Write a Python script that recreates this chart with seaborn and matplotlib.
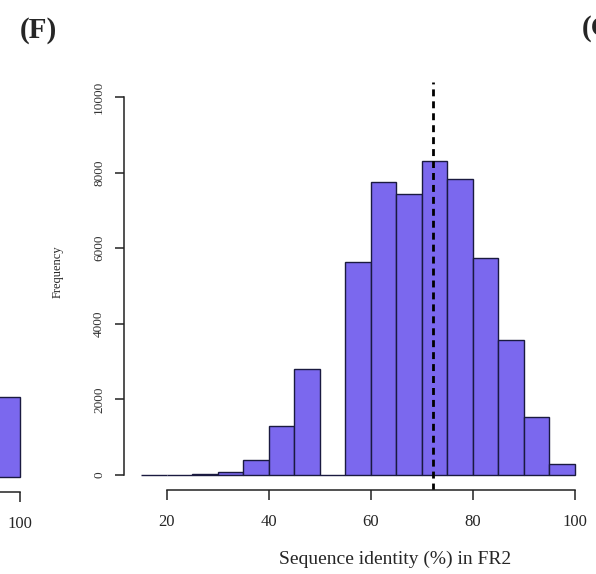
import numpy as np
import pandas as pd
import seaborn as sns
import matplotlib.pyplot as plt

# Histogram of sequence identity in FR2 (bins of 5 %)
bin_edges = [15, 20, 25, 30, 35, 40, 45, 50, 55, 60, 65, 70, 75, 80, 85, 90, 95, 100]
counts = [0, 0, 15, 70, 390, 1300, 2790, 0, 5640, 7750, 7440, 8300, 7830, 5740, 3580, 1520, 280]
mean_identity = 72.2

# last bin of the neighbouring panel (E), only partly visible
prev_edges = [95, 100]
prev_counts = [2100]

x_ticks = [20, 40, 60, 80, 100]
y_ticks = [0, 2000, 4000, 6000, 8000, 10000]

sns.set_style("white")
plt.rcParams['font.family'] = ['Liberation Serif', 'DejaVu Serif']

bar_color = '#7B68EE'

fig = plt.figure(figsize=(5.96, 5.74), dpi=100)
W, H = 596, 574


def px_axes(left, right, top, bottom):
    return fig.add_axes([left / W, 1 - bottom / H, (right - left) / W, (bottom - top) / H])


def style_axes(ax, xticks, show_y=True):
    ax.set_xlim(11.6, 103.4)
    ax.set_ylim(-400, 10400)
    for s in ['top', 'right']:
        ax.spines[s].set_visible(False)
    ax.spines['bottom'].set_bounds(20, 100)
    ax.spines['bottom'].set_linewidth(1.1)
    ax.spines['bottom'].set_color('#222222')
    ax.set_xticks(xticks)
    ax.tick_params(axis='x', bottom=True, direction='out', length=7, width=1.1, pad=10,
                   labelsize=12, color='#222222')
    if show_y:
        ax.spines['left'].set_bounds(0, 10000)
        ax.spines['left'].set_linewidth(1.1)
        ax.spines['left'].set_color('#222222')
        ax.set_yticks(y_ticks)
        ax.set_yticklabels([str(v) for v in y_ticks], rotation=90, va='center')
        ax.tick_params(axis='y', left=True, direction='out', length=6.5, width=1.1, pad=7,
                       labelsize=9.5, color='#222222', labelcolor='#333333')
    else:
        ax.spines['left'].set_visible(False)
        ax.set_yticks([])


# previous panel, cut off at the left edge
ax0 = px_axes(-447, 38, 82, 492)
centers0 = [(a + b) / 2 for a, b in zip(prev_edges[:-1], prev_edges[1:])]
sns.histplot(x=centers0, weights=prev_counts, bins=prev_edges, ax=ax0,
             color=bar_color, alpha=1, edgecolor='#1a1a40', linewidth=1)
style_axes(ax0, [100], show_y=False)
ax0.set_xlabel('')
ax0.set_ylabel('')

# main panel (F)
ax = px_axes(124, 592, 82, 490)
centers = [(a + b) / 2 for a, b in zip(bin_edges[:-1], bin_edges[1:])]
df = pd.DataFrame({'identity': centers, 'n': counts})
sns.histplot(data=df, x='identity', weights='n', bins=bin_edges, ax=ax,
             color=bar_color, alpha=1, edgecolor='#1a1a40', linewidth=1)
ax.axvline(mean_identity, color='black', linestyle=(0, (2.5, 1.8)), linewidth=2)
style_axes(ax, x_ticks)
ax.set_xlabel('Sequence identity (%) in FR2', fontsize=14)
ax.set_ylabel('Frequency', fontsize=9)
ax.xaxis.set_label_coords((395 - 124) / 468, (490 - 551) / 408)
ax.yaxis.set_label_coords((64 - 124) / 468, (490 - 272) / 408)

fig.text(20 / W, 1 - 31 / H, '(F)', fontsize=21, fontweight='bold', va='center', ha='left')
fig.text(582 / W, 1 - 29 / H, '(G)', fontsize=21, fontweight='bold', va='center', ha='left')

fig.savefig('out.png', dpi=100)
